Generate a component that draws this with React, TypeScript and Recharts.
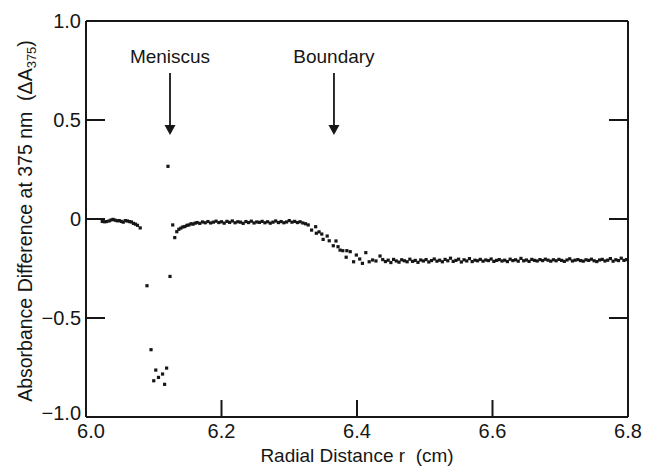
import React from 'react';
import { ScatterChart, Scatter, XAxis, YAxis, ReferenceLine, ReferenceDot } from 'recharts';

const INK = '#161616';
const FONT = '"Liberation Sans", Arial, Helvetica, sans-serif';

// ---- axis ticks ----
const xTicks = [6.0, 6.2, 6.4, 6.6, 6.8];
const xTickLabels = ['6.0', '6.2', '6.4', '6.6', '6.8'];
const yTicks = [1.0, 0.5, 0, -0.5, -1.0];
const yTickLabels = ['1.0', '0.5', '0', '\u22120.5', '\u22121.0'];
const rightTicks = [0.5, 0, -0.5];
const xMin = 6.0;
const xMax = 6.8;
const yMin = -1.0;
const yMax = 1.0;

// ---- annotations ----
const meniscusR = 6.124;
const boundaryR = 6.366;

// ---- data: radial distance r (cm) and ΔA375 ----
const preR = [6.024, 6.027, 6.030, 6.034, 6.037, 6.040, 6.043, 6.046, 6.049, 6.052, 6.055, 6.058, 6.061, 6.064, 6.067, 6.070, 6.073, 6.076, 6.080];
const preA = [-0.012, -0.014, -0.013, -0.010, -0.005, -0.002, -0.006, -0.009, -0.008, -0.012, -0.016, -0.008, -0.010, -0.013, -0.015, -0.022, -0.026, -0.032, -0.045];

const menR = [6.090, 6.096, 6.100, 6.103, 6.107, 6.113, 6.116, 6.119, 6.121, 6.124, 6.128, 6.131, 6.134];
const menA = [-0.337, -0.660, -0.817, -0.763, -0.800, -0.783, -0.835, -0.753, 0.266, -0.290, -0.030, -0.094, -0.064];

const plateauR = [6.137, 6.140, 6.143, 6.146, 6.149, 6.152, 6.155, 6.158, 6.161, 6.164,
  6.168, 6.172, 6.176, 6.180, 6.184, 6.188, 6.192, 6.196, 6.200, 6.204,
  6.208, 6.212, 6.216, 6.220, 6.224, 6.228, 6.232, 6.236, 6.240, 6.244,
  6.248, 6.252, 6.256, 6.260, 6.264, 6.268, 6.272, 6.276, 6.280, 6.284,
  6.288, 6.292, 6.296, 6.300, 6.304, 6.308, 6.312, 6.316, 6.320, 6.324];
const plateauA = [-0.052, -0.046, -0.040, -0.038, -0.032, -0.030, -0.024, -0.026, -0.021, -0.018,
  -0.022, -0.015, -0.019, -0.013, -0.020, -0.016, -0.011, -0.018, -0.014, -0.021,
  -0.012, -0.017, -0.010, -0.019, -0.014, -0.016, -0.022, -0.013, -0.018, -0.011,
  -0.020, -0.015, -0.017, -0.012, -0.019, -0.014, -0.021, -0.016, -0.010, -0.018,
  -0.013, -0.019, -0.015, -0.008, -0.016, -0.012, -0.018, -0.014, -0.020, -0.024];

const boundR = [6.328, 6.333, 6.339, 6.340, 6.344, 6.348, 6.350, 6.356, 6.359, 6.365,
  6.369, 6.372, 6.375, 6.379, 6.384, 6.385, 6.390, 6.395, 6.399, 6.404,
  6.408, 6.413, 6.418, 6.423, 6.428, 6.434, 6.438];
const boundA = [-0.030, -0.056, -0.039, -0.072, -0.065, -0.076, -0.103, -0.086, -0.110, -0.135,
  -0.111, -0.140, -0.157, -0.160, -0.193, -0.160, -0.165, -0.216, -0.182, -0.202,
  -0.224, -0.170, -0.216, -0.207, -0.212, -0.187, -0.205];

const tailR = [6.442, 6.446, 6.450, 6.454, 6.458, 6.462, 6.466, 6.470, 6.474, 6.478,
  6.482, 6.486, 6.490, 6.494, 6.498, 6.502, 6.506, 6.510, 6.514, 6.518,
  6.522, 6.526, 6.530, 6.534, 6.538, 6.542, 6.546, 6.550, 6.554, 6.558,
  6.562, 6.566, 6.570, 6.574, 6.578, 6.582, 6.586, 6.590, 6.594, 6.598,
  6.602, 6.606, 6.610, 6.614, 6.618, 6.622, 6.626, 6.630, 6.634, 6.638,
  6.642, 6.646, 6.650, 6.654, 6.658, 6.662, 6.666, 6.670, 6.674, 6.678,
  6.682, 6.686, 6.690, 6.694, 6.698, 6.702, 6.706, 6.710, 6.714, 6.718,
  6.722, 6.726, 6.730, 6.734, 6.738, 6.742, 6.746, 6.750, 6.754, 6.758,
  6.762, 6.766, 6.770, 6.774, 6.778, 6.782, 6.786, 6.790, 6.794, 6.798];
const tailA = [-0.215, -0.208, -0.220, -0.204, -0.212, -0.218, -0.206, -0.211, -0.216, -0.203,
  -0.214, -0.209, -0.219, -0.207, -0.212, -0.205, -0.217, -0.210, -0.202, -0.213,
  -0.208, -0.216, -0.204, -0.211, -0.198, -0.214, -0.209, -0.203, -0.217, -0.206,
  -0.212, -0.200, -0.215, -0.208, -0.211, -0.204, -0.213, -0.207, -0.210, -0.202,
  -0.214, -0.209, -0.205, -0.212, -0.208, -0.215, -0.203, -0.210, -0.206, -0.213,
  -0.199, -0.211, -0.207, -0.214, -0.204, -0.209, -0.212, -0.205, -0.210, -0.203,
  -0.208, -0.213, -0.206, -0.211, -0.204, -0.209, -0.214, -0.207, -0.201, -0.212,
  -0.208, -0.205, -0.210, -0.213, -0.206, -0.209, -0.203, -0.211, -0.215, -0.207,
  -0.204, -0.212, -0.208, -0.200, -0.213, -0.206, -0.210, -0.198, -0.209, -0.205];

const allR = [...preR, ...menR, ...plateauR, ...boundR, ...tailR];
const allA = [...preA, ...menA, ...plateauA, ...boundA, ...tailA];
const points = allR.map((r, i) => ({ r, a: allA[i] }));

const LeftTick = (props: any) => {
  const { x, y, payload } = props;
  const i = yTicks.indexOf(payload.value);
  const inner = payload.value !== yMax && payload.value !== yMin;
  const dy = payload.value === yMin ? 3 : 7;
  return (
    <g>
      {inner && <line x1={x} x2={x + 19} y1={y} y2={y} stroke={INK} strokeWidth={2} />}
      <text x={x - 5} y={y + dy} textAnchor="end" fontSize={20} fontFamily={FONT} fill={INK}>
        {yTickLabels[i]}
      </text>
    </g>
  );
};

const BottomTick = (props: any) => {
  const { x, y, payload } = props;
  const i = xTicks.indexOf(payload.value);
  const inner = payload.value !== xMin && payload.value !== xMax;
  const dx = payload.value === xMin ? 5 : 0;
  return (
    <g>
      {inner && <line x1={x} x2={x} y1={y} y2={y - 17} stroke={INK} strokeWidth={2} />}
      <text x={x + dx} y={y + 21} textAnchor="middle" fontSize={20} fontFamily={FONT} fill={INK}>
        {xTickLabels[i]}
      </text>
    </g>
  );
};

const YTitle = (props: any) => {
  const vb = props.viewBox || { x: 30, y: 21, width: 56, height: 396 };
  const cx = vb.x + 2;
  const cy = vb.y + vb.height / 2 + 2;
  return (
    <text transform={`translate(${cx},${cy}) rotate(-90)`} x={0} y={0} textAnchor="middle"
      fontSize={19.5} fontFamily={FONT} fill={INK}>
      Absorbance Difference at 375 nm{'\u00a0\u00a0'}(ΔA
      <tspan fontSize={13} dy={4}>375</tspan>
      <tspan dy={-4}>)</tspan>
    </text>
  );
};

const XTitle = (props: any) => {
  const vb = props.viewBox || { x: 86, y: 417, width: 542, height: 52 };
  return (
    <text x={vb.x + vb.width / 2} y={vb.y + 45} textAnchor="middle" fontSize={19} fontFamily={FONT} fill={INK}>
      Radial Distance r{'\u00a0\u00a0'}(cm)
    </text>
  );
};

const Square = (p: any) => (
  <rect x={p.cx - 1.6} y={p.cy - 1.6} width={3.2} height={3.2} fill={INK} />
);

const ArrowHead = (p: any) => (
  <polygon points={`${p.cx - 5.5},${p.cy - 10} ${p.cx + 5.5},${p.cy - 10} ${p.cx},${p.cy}`} fill={INK} />
);

const RightTickMark = (p: any) => (
  <line x1={p.cx - 19} x2={p.cx} y1={p.cy} y2={p.cy} stroke={INK} strokeWidth={2} />
);

const makeText = (label: string) => (p: any) => (
  <text x={p.cx} y={p.cy} textAnchor="middle" fontSize={19} fontFamily={FONT} fill={INK}>{label}</text>
);

export default function App() {
  return (
    <div style={{ position: 'absolute', left: 0, top: 0, width: 647, height: 469, background: '#fff' }}>
      <ScatterChart width={647} height={469} margin={{ top: 21, right: 19, bottom: 0, left: 30 }}>
        <XAxis dataKey="r" type="number" domain={[xMin, xMax]} ticks={xTicks} interval={0}
          height={52} tickSize={0} tickMargin={0} tickLine={false}
          axisLine={{ stroke: INK, strokeWidth: 2 }} tick={<BottomTick />} label={<XTitle />} />
        <YAxis dataKey="a" type="number" domain={[yMin, yMax]} ticks={yTicks} interval={0}
          width={56} tickSize={0} tickMargin={0} tickLine={false}
          axisLine={{ stroke: INK, strokeWidth: 2 }} tick={<LeftTick />} label={<YTitle />} />
        <ReferenceLine y={yMax} stroke={INK} strokeWidth={2} />
        <ReferenceLine x={xMax} stroke={INK} strokeWidth={2} />
        {rightTicks.map((v) => (
          <ReferenceDot key={`rt${v}`} x={xMax} y={v} shape={RightTickMark} />
        ))}
        <Scatter data={points} shape={Square} isAnimationActive={false} />
        <ReferenceLine segment={[{ x: meniscusR, y: 0.737 }, { x: meniscusR, y: 0.47 }]} stroke={INK} strokeWidth={1.8} />
        <ReferenceLine segment={[{ x: boundaryR, y: 0.737 }, { x: boundaryR, y: 0.47 }]} stroke={INK} strokeWidth={1.8} />
        <ReferenceDot x={meniscusR} y={0.424} shape={ArrowHead} />
        <ReferenceDot x={boundaryR} y={0.424} shape={ArrowHead} />
        <ReferenceDot x={meniscusR} y={0.788} shape={makeText('Meniscus')} />
        <ReferenceDot x={boundaryR} y={0.788} shape={makeText('Boundary')} />
      </ScatterChart>
    </div>
  );
}
